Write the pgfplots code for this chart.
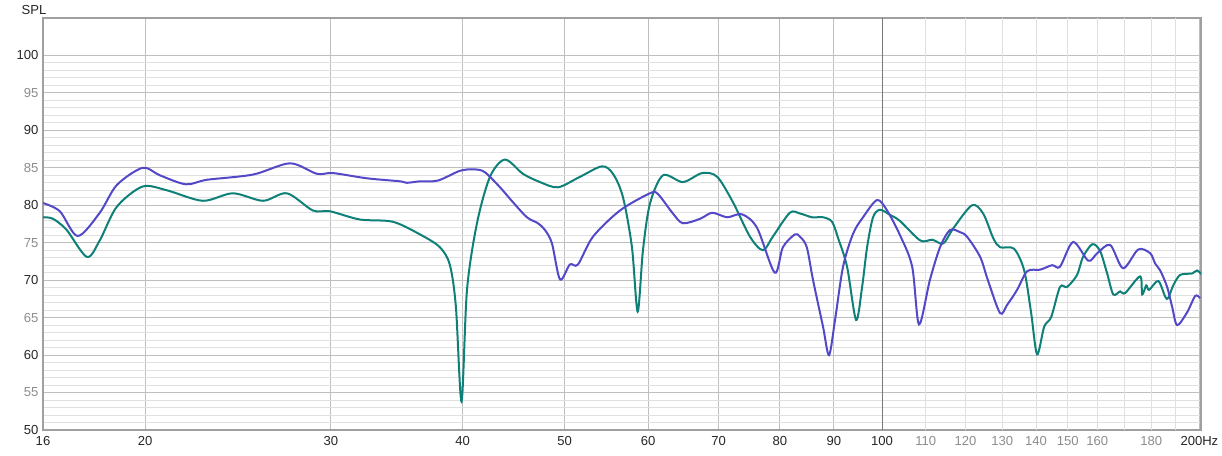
\documentclass[border=0pt]{standalone}
\usepackage{pgfplots}
\usepackage{pgfplotstable}
\pgfplotsset{compat=1.18}
\usepackage{fontspec}
\setmainfont{Liberation Sans}
\definecolor{cBlue}{RGB}{82,72,200}
\definecolor{cTeal}{RGB}{14,128,120}
\definecolor{gMaj}{RGB}{190,190,190}
\definecolor{gMin}{RGB}{224,224,224}
\definecolor{gLab}{RGB}{140,140,140}
\definecolor{gDark}{RGB}{120,120,120}
\definecolor{gFrame}{RGB}{160,160,160}

\pgfplotstableread{
f dB
16.0 80.3
16.6 79.2
17.26 75.9
18.11 79.0
18.80 82.7
19.89 85.0
20.65 84.0
21.86 82.8
22.88 83.4
25.31 84.1
27.44 85.6
29.10 84.2
30.14 84.3
32.47 83.6
34.89 83.2
35.42 83.0
36.46 83.2
37.91 83.3
39.78 84.6
41.10 84.8
42.01 84.4
43.41 82.4
44.66 80.4
46.04 78.4
47.16 77.6
47.89 76.7
48.63 74.9
49.49 70.1
50.57 72.1
51.47 72.1
53.18 75.8
56.41 79.3
60.23 81.6
61.29 81.5
63.33 78.9
64.73 77.6
67.22 78.2
69.00 79.0
71.30 78.4
73.64 78.8
76.10 77.0
79.12 71.0
80.52 74.4
82.65 76.1
83.60 75.8
84.84 74.4
86.01 70.0
87.90 63.8
89.06 60.0
90.24 64.7
91.83 71.8
93.86 76.2
95.93 78.4
98.91 80.7
101.1 79.3
104.0 76.0
106.8 71.8
108.4 64.1
111.0 70.0
113.5 74.4
116.0 76.7
118.6 76.4
120.4 75.8
123.9 73.1
126.0 70.0
129.4 65.6
131.4 66.7
134.3 68.7
137.3 71.2
141.2 71.4
145.0 72.0
147.5 71.8
151.8 75.1
156.9 72.6
160.0 73.6
164.6 74.7
169.3 71.6
175.0 74.1
179.6 73.6
181.6 72.2
183.6 71.3
186.4 69.1
188.5 66.4
190.5 64.0
194.7 65.7
198.2 67.9
200.3 67.6
}\blueTable

\pgfplotstableread{
f dB
16.0 78.4
16.35 78.2
16.85 76.7
17.61 73.1
18.11 75.3
18.80 79.8
19.89 82.5
20.97 82.0
22.68 80.6
24.22 81.6
25.87 80.6
27.26 81.6
28.85 79.3
29.94 79.2
31.97 78.1
34.35 77.8
36.46 76.1
38.07 74.4
38.92 72.0
39.43 66.4
39.92 53.8
40.39 68.7
41.28 77.6
42.47 83.8
43.88 86.1
45.64 84.2
47.37 83.1
49.27 82.4
51.69 83.8
54.24 85.2
55.56 84.2
56.78 81.1
57.91 74.4
58.64 65.8
59.32 74.0
60.23 80.2
61.97 84.0
64.73 83.1
67.51 84.3
69.76 83.8
72.21 80.4
74.95 75.8
77.10 74.0
78.77 75.8
81.75 79.0
83.60 78.9
85.82 78.4
87.90 78.4
89.65 77.8
90.85 75.6
92.64 71.8
94.48 64.7
95.73 69.1
96.78 74.4
98.05 78.4
99.56 79.4
101.8 78.7
104.0 77.9
108.7 75.3
111.6 75.4
114.3 74.9
116.8 76.9
121.7 80.0
124.7 78.9
127.5 75.6
129.4 74.4
133.4 74.2
136.4 71.3
138.5 65.6
140.3 60.1
142.5 63.8
144.7 65.1
147.5 69.1
149.8 69.1
153.1 70.7
155.1 73.1
158.3 74.8
161.0 73.9
163.5 70.9
165.7 68.1
168.2 68.5
170.1 68.3
175.7 70.5
176.5 68.1
178.1 69.3
179.2 68.7
182.8 69.9
185.6 67.8
186.8 67.6
188.9 69.3
191.8 70.7
196.9 70.9
199.0 71.3
201.2 70.7
}\tealTable

\begin{document}
\begin{tikzpicture}
\useasboundingbox (0,0) rectangle (916.5pt,341.25pt);
\begin{axis}[
  at={(32.25pt,18.75pt)}, anchor=south west,
  scale only axis, width=868.5pt, height=309pt,
  xmode=log, log basis x=10,
  xmin=16, xmax=200.7, ymin=50, ymax=105,
  xtick={16,20,30,40,50,60,70,80,90,100,200},
  xticklabels={16,20,30,40,50,60,70,80,90,100,200Hz},
  minor x tick num=0,
  extra x ticks={110,120,130,140,150,160,170,180,190},
  extra x tick labels={110,120,130,140,150,160,{},180,{}},
  extra x tick style={grid=major, major grid style={gMin, line width=0.75pt},
     tick label style={text=gLab}},
  ytick={50,55,...,100},
  yticklabels={50,\textcolor{gLab}{55},60,\textcolor{gLab}{65},70,\textcolor{gLab}{75},80,\textcolor{gLab}{85},90,\textcolor{gLab}{95},100},
  minor y tick num=4,
  xmajorgrids, ymajorgrids, yminorgrids,
  major grid style={gMaj, line width=0.75pt},
  minor grid style={gMin, line width=0.75pt},
  major tick length=0pt, minor tick length=0pt,
  tick label style={font=\fontsize{9.8}{11}\selectfont, text=black!85},
  xticklabel style={yshift=-1.5pt},
  axis line style={draw=gFrame, line width=1.5pt},
]
\draw[gDark, line width=0.75pt] (axis cs:100,50) -- (axis cs:100,105);
\addplot[cTeal, line width=1.5pt, smooth, tension=0.5] table[x=f, y=dB] {\tealTable};
\addplot[cBlue, line width=1.5pt, smooth, tension=0.5] table[x=f, y=dB] {\blueTable};
\end{axis}
\node[anchor=base west, font=\fontsize{9.8}{11}\selectfont, text=black!85] at (12.75pt,330.75pt) {SPL};
\end{tikzpicture}
\end{document}
